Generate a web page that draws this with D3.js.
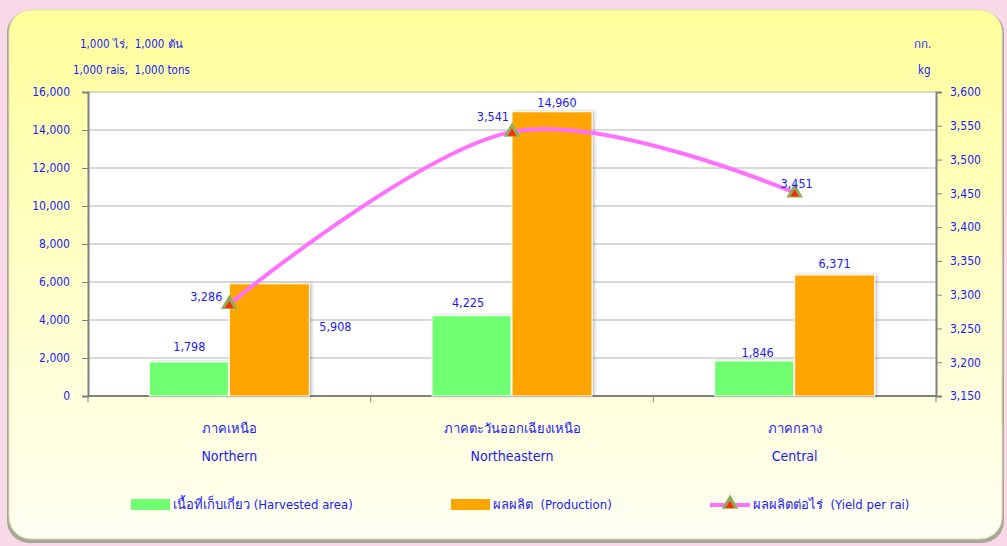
<!DOCTYPE html>
<html>
<head>
<meta charset="utf-8">
<script src="https://cdn.jsdelivr.net/npm/d3@7"></script>
<style>
  body { margin: 0; background: #f9d9e7; }
  svg { display: block; }
  text { font-family: Tahoma, "DejaVu Sans Condensed", "Noto Sans", sans-serif; white-space: pre; }
</style>
</head>
<body>
<div id="chart"></div>
<script>
// data
const regionsTh = ["ภาคเหนือ", "ภาคตะวันออกเฉียงเหนือ", "ภาคกลาง"];
const regionsEn = ["Northern", "Northeastern", "Central"];
const harvestedArea = [1798, 4225, 1846];
const production = [5908, 14960, 6371];
const yieldPerRai = [3286, 3541, 3451];
const leftTicks = [0, 2000, 4000, 6000, 8000, 10000, 12000, 14000, 16000];
const rightTicks = [3150, 3200, 3250, 3300, 3350, 3400, 3450, 3500, 3550, 3600];
const legendLabels = ["เนื้อที่เก็บเกี่ยว (Harvested area)", "ผลผลิต  (Production)", "ผลผลิตต่อไร่  (Yield per rai)"];

const W = 1007, H = 546;
const plot = { left: 88, right: 936, top: 92, bottom: 396 };
const BLUE = "#1a1aff";
const GREEN = "#70ff70";
const ORANGE = "#ffa500";
const PINK = "#ff70ff";

const svg = d3.select("#chart").append("svg")
	.attr("width", W)
	.attr("height", H);

const defs = svg.append("defs");
const grad = defs.append("linearGradient")
	.attr("id", "panelGrad")
	.attr("x1", 0).attr("y1", 0).attr("x2", 0).attr("y2", 1);
grad.append("stop").attr("offset", "0%").attr("stop-color", "#ffff9c");
grad.append("stop").attr("offset", "55%").attr("stop-color", "#ffffcc");
grad.append("stop").attr("offset", "100%").attr("stop-color", "#fffff2");

const shadow = defs.append("filter").attr("id", "barShadow")
	.attr("x", "-20%").attr("y", "-5%").attr("width", "140%").attr("height", "110%");
shadow.append("feDropShadow").attr("dx", 2).attr("dy", 0).attr("stdDeviation", 1.5)
	.attr("flood-color", "#000").attr("flood-opacity", 0.25);

// panel
svg.append("rect")
	.attr("x", 7).attr("y", 11).attr("width", 997).attr("height", 532)
	.attr("rx", 22)
	.attr("fill", "#a8a898");
svg.append("rect")
	.attr("x", 9).attr("y", 10).attr("width", 993).attr("height", 529)
	.attr("rx", 22)
	.attr("fill", "url(#panelGrad)")
	.attr("stroke", "#e0e0b0")
	.attr("stroke-width", 1);

// scales
const x = d3.scaleBand()
	.domain(regionsEn)
	.range([plot.left, plot.right]);

const yL = d3.scaleLinear()
	.domain([0, 16000])
	.range([plot.bottom, plot.top]);

const yR = d3.scaleLinear()
	.domain([3150, 3600])
	.range([plot.bottom, plot.top]);

const barW = 80;

// plot area
svg.append("rect")
	.attr("x", plot.left).attr("y", plot.top)
	.attr("width", plot.right - plot.left).attr("height", plot.bottom - plot.top)
	.attr("fill", "#fff");

// gridlines
svg.append("g")
	.selectAll("line")
	.data(leftTicks.slice(1))
	.enter()
	.append("line")
	.attr("x1", plot.left).attr("x2", plot.right)
	.attr("y1", d => yL(d)).attr("y2", d => yL(d))
	.attr("stroke", "#b4b4b4")
	.attr("stroke-width", 1);

// axes
const axisL = svg.append("g")
	.attr("transform", `translate(${plot.left},0)`)
	.call(d3.axisLeft(yL).tickValues(leftTicks).tickSize(6).tickPadding(12).tickFormat(d3.format(",")));
const axisR = svg.append("g")
	.attr("transform", `translate(${plot.right},0)`)
	.call(d3.axisRight(yR).tickValues(rightTicks).tickSize(6).tickPadding(8).tickFormat(d3.format(",")));
[axisL, axisR].forEach(a => {
	a.select(".domain").attr("stroke", "#808080").attr("stroke-width", 2);
	a.selectAll(".tick line").attr("stroke", "#808080");
	a.selectAll("text").attr("fill", BLUE).style("font-size", "12px")
		.style("font-family", 'Tahoma, "DejaVu Sans Condensed", sans-serif');
});

const axisB = svg.append("g")
	.attr("transform", `translate(0,${plot.bottom})`);
axisB.append("line")
	.attr("x1", plot.left).attr("x2", plot.right)
	.attr("stroke", "#808080").attr("stroke-width", 2);
const bounds = regionsEn.map(d => x(d)).concat([plot.right]);
axisB.selectAll(".sep")
	.data(bounds)
	.enter()
	.append("line")
	.attr("x1", d => d).attr("x2", d => d)
	.attr("y1", 0).attr("y2", 6)
	.attr("stroke", "#808080");

// category labels
const catLabels = svg.append("g");
catLabels.selectAll(".th")
	.data(regionsTh)
	.enter()
	.append("text")
	.attr("x", (d, i) => x(regionsEn[i]) + x.bandwidth() / 2)
	.attr("y", 433)
	.attr("text-anchor", "middle")
	.attr("fill", BLUE)
	.style("font-size", "13px")
	.text(d => d);
catLabels.selectAll(".en")
	.data(regionsEn)
	.enter()
	.append("text")
	.attr("x", d => x(d) + x.bandwidth() / 2)
	.attr("y", 461)
	.attr("text-anchor", "middle")
	.attr("fill", BLUE)
	.style("font-size", "14px")
	.text(d => d);

// bars
const cx = i => x(regionsEn[i]) + x.bandwidth() / 2;
svg.append("g")
	.selectAll("rect")
	.data(harvestedArea)
	.enter()
	.append("rect")
	.attr("x", (d, i) => cx(i) - barW)
	.attr("y", d => yL(d))
	.attr("width", barW - 1)
	.attr("height", d => yL(0) - yL(d))
	.attr("fill", GREEN)
	.attr("stroke", "#fff")
	.attr("filter", "url(#barShadow)");
svg.append("g")
	.selectAll("rect")
	.data(production)
	.enter()
	.append("rect")
	.attr("x", (d, i) => cx(i))
	.attr("y", d => yL(d))
	.attr("width", barW)
	.attr("height", d => yL(0) - yL(d))
	.attr("fill", ORANGE)
	.attr("stroke", "#fff")
	.attr("filter", "url(#barShadow)");

// yield line
const line = d3.line()
	.x((d, i) => cx(i))
	.y(d => yR(d))
	.curve(d3.curveCardinal.tension(0));
svg.append("path")
	.datum(yieldPerRai)
	.attr("d", line)
	.attr("fill", "none")
	.attr("stroke", PINK)
	.attr("stroke-width", 4);

const tri = d3.symbol().type(d3.symbolTriangle);
const marker = g => {
	g.append("path").attr("d", tri.size(120)()).attr("fill", "#8fac5c");
	g.append("path").attr("d", tri.size(30)()).attr("transform", "translate(0,1.5)").attr("fill", "#ff2a00");
};
svg.append("g")
	.selectAll("g")
	.data(yieldPerRai)
	.enter()
	.append("g")
	.attr("transform", (d, i) => `translate(${cx(i)},${yR(d)})`)
	.call(marker);

// data labels
const fmt = d3.format(",");
const lbl = svg.append("g")
	.attr("fill", BLUE)
	.style("font-size", "12.5px");
const haOffset = [[0, -11], [-4, -9], [3, -4]];
lbl.selectAll(".ha")
	.data(harvestedArea)
	.enter()
	.append("text")
	.attr("x", (d, i) => cx(i) - barW / 2 + haOffset[i][0])
	.attr("y", (d, i) => yL(d) + haOffset[i][1])
	.attr("text-anchor", "middle")
	.text(d => fmt(d));
// first production label sits beside its bar
const prOffset = [[10, 47, "start"], [5, -5, "middle"], [0, -7, "middle"]];
lbl.selectAll(".pr")
	.data(production)
	.enter()
	.append("text")
	.attr("x", (d, i) => (i === 0 ? cx(i) + barW : cx(i) + barW / 2) + prOffset[i][0])
	.attr("y", (d, i) => yL(d) + prOffset[i][1])
	.attr("text-anchor", (d, i) => prOffset[i][2])
	.text(d => fmt(d));
const ylOffset = [[-7, -3, "end"], [-3, -11, "end"], [2, -5, "middle"]];
lbl.selectAll(".yl")
	.data(yieldPerRai)
	.enter()
	.append("text")
	.attr("x", (d, i) => cx(i) + ylOffset[i][0])
	.attr("y", (d, i) => yR(d) + ylOffset[i][1])
	.attr("text-anchor", (d, i) => ylOffset[i][2])
	.text(d => fmt(d));

// unit labels
const units = svg.append("g")
	.attr("fill", BLUE)
	.style("font-size", "11.5px");
units.append("text").attr("x", 80).attr("y", 48).text("1,000 ไร่,  1,000 ตัน");
units.append("text").attr("x", 73).attr("y", 74).text("1,000 rais,  1,000 tons");
units.append("text").attr("x", 914).attr("y", 48).text("กก.");
units.append("text").attr("x", 918).attr("y", 74).text("kg");

// legend
const legend = svg.append("g")
	.style("font-size", "13px");
legend.append("rect").attr("x", 131).attr("y", 499).attr("width", 39).attr("height", 11).attr("fill", GREEN);
legend.append("rect").attr("x", 451).attr("y", 499).attr("width", 39).attr("height", 11).attr("fill", ORANGE);
legend.append("line").attr("x1", 710).attr("x2", 750).attr("y1", 505).attr("y2", 505)
	.attr("stroke", PINK).attr("stroke-width", 4);
legend.append("g").attr("transform", "translate(730,504)").call(marker);
const lgTextX = [173, 493, 753];
legend.selectAll("text")
	.data(legendLabels)
	.enter()
	.append("text")
	.attr("x", (d, i) => lgTextX[i])
	.attr("y", 509)
	.attr("fill", BLUE)
	.text(d => d);
</script>
</body>
</html>
